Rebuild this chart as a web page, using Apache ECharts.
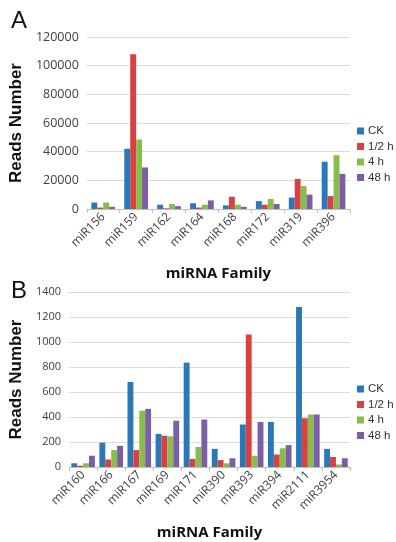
<!DOCTYPE html>
<html>
<head>
<meta charset="utf-8">
<script src="https://cdn.jsdelivr.net/npm/echarts@6/dist/echarts.min.js"></script>
<style>
	html, body { margin: 0; padding: 0; background: #fff; }
	#chart { width: 396px; height: 542px; }
</style>
</head>
<body>
<div id="chart"></div>
<script>
	// panel A data
	const famA = ['miR156', 'miR159', 'miR162', 'miR164', 'miR168', 'miR172', 'miR319', 'miR396']
	const ckA = [4500, 42000, 3000, 4000, 2500, 5500, 8000, 33000]
	const halfA = [1000, 108000, 500, 1000, 8500, 3000, 21000, 9000]
	const fourA = [4500, 48500, 3500, 3000, 3000, 7000, 16000, 37500]
	const h48A = [1500, 29000, 2000, 6000, 1500, 3500, 10000, 24500]
	const ticksA = [0, 20000, 40000, 60000, 80000, 100000, 120000]

	// panel B data
	const famB = ['miR160', 'miR166', 'miR167', 'miR169', 'miR171', 'miR390', 'miR393', 'miR394', 'miR2111', 'miR3954']
	const ckB = [30, 195, 680, 265, 835, 145, 340, 360, 1280, 145]
	const halfB = [10, 60, 135, 250, 65, 55, 1060, 100, 390, 80]
	const fourB = [30, 135, 450, 245, 160, 30, 90, 150, 420, 20]
	const h48B = [90, 170, 465, 370, 380, 70, 360, 175, 420, 70]
	const ticksB = [0, 200, 400, 600, 800, 1000, 1200, 1400]

	const names = ['CK', '1/2 h', '4 h', '48 h']
	const color = ['#2b78b8', '#d8413f', '#88bd4c', '#7b5ea5']

	const chart = echarts.init(document.getElementById('chart'))

	const xAxisBase = {
		type: 'category',
		axisLine: { lineStyle: { color: '#bfbfbf' } },
		axisTick: { show: true, alignWithLabel: false, length: 4, lineStyle: { color: '#bfbfbf' } },
		axisLabel: { rotate: 45, fontSize: 12, color: '#404040', fontFamily: 'Open Sans', margin: 6, interval: 0 },
		name: 'miRNA Family',
		nameLocation: 'middle',
		nameTextStyle: { fontSize: 15, fontWeight: 'bold', color: '#111', fontFamily: 'Open Sans' }
	}
	const yAxisBase = {
		type: 'value',
		axisLine: { show: false },
		axisTick: { show: false },
		splitLine: { lineStyle: { color: '#dcdcdc' } },
		axisLabel: { color: '#404040', fontFamily: 'Open Sans', formatter: v => String(v) },
		name: 'Reads Number',
		nameLocation: 'middle',
		nameTextStyle: { fontSize: 17, fontWeight: 'bold', color: '#111', fontFamily: 'Liberation Sans' }
	}

	function mkSeries(arrs, idx) {
		return arrs.map((d, i) => ({
			name: names[i],
			type: 'bar',
			xAxisIndex: idx,
			yAxisIndex: idx,
			data: d,
			barGap: '0%',
			barCategoryGap: idx === 0 ? '28%' : '16%',
			itemStyle: { color: color[i] }
		}))
	}

	const legendBase = {
		orient: 'vertical',
		icon: 'rect',
		itemWidth: 7,
		itemHeight: 7,
		itemGap: 3.5,
		padding: 0,
		textStyle: { fontSize: 11.5, color: '#333', fontFamily: 'Liberation Sans', padding: [0, 0, 0, -1] },
		data: names
	}

	let option = {
		animation: false,
		color: color,
		title: [
			{ text: 'A', left: 6, top: 4, textStyle: { fontSize: 24, fontWeight: 'normal', color: '#111', fontFamily: 'Liberation Sans' } },
			{ text: 'B', left: 6, top: 274, textStyle: { fontSize: 24, fontWeight: 'normal', color: '#111', fontFamily: 'Liberation Sans' } }
		],
		legend: [
			Object.assign({ left: 357, top: 125 }, legendBase),
			Object.assign({ left: 357, top: 383 }, legendBase)
		],
		grid: [
			{ left: 77, right: 46, top: 37, height: 172 },
			{ left: 60, right: 46, top: 292, height: 175 }
		],
		xAxis: [
			Object.assign({}, xAxisBase, { gridIndex: 0, data: famA, nameGap: 57 }),
			Object.assign({}, xAxisBase, { gridIndex: 1, data: famB, nameGap: 58 })
		],
		yAxis: [
			Object.assign({}, yAxisBase, { gridIndex: 0, min: ticksA[0], max: ticksA[ticksA.length - 1], interval: 20000, nameGap: 60,
				axisLabel: Object.assign({}, yAxisBase.axisLabel, { fontSize: 12.5 }) }),
			Object.assign({}, yAxisBase, { gridIndex: 1, min: ticksB[0], max: ticksB[ticksB.length - 1], interval: 200, nameGap: 42,
				axisLabel: Object.assign({}, yAxisBase.axisLabel, { fontSize: 11 }) })
		],
		series: mkSeries([ckA, halfA, fourA, h48A], 0).concat(mkSeries([ckB, halfB, fourB, h48B], 1))
	}

	chart.setOption(option)
</script>
</body>
</html>
